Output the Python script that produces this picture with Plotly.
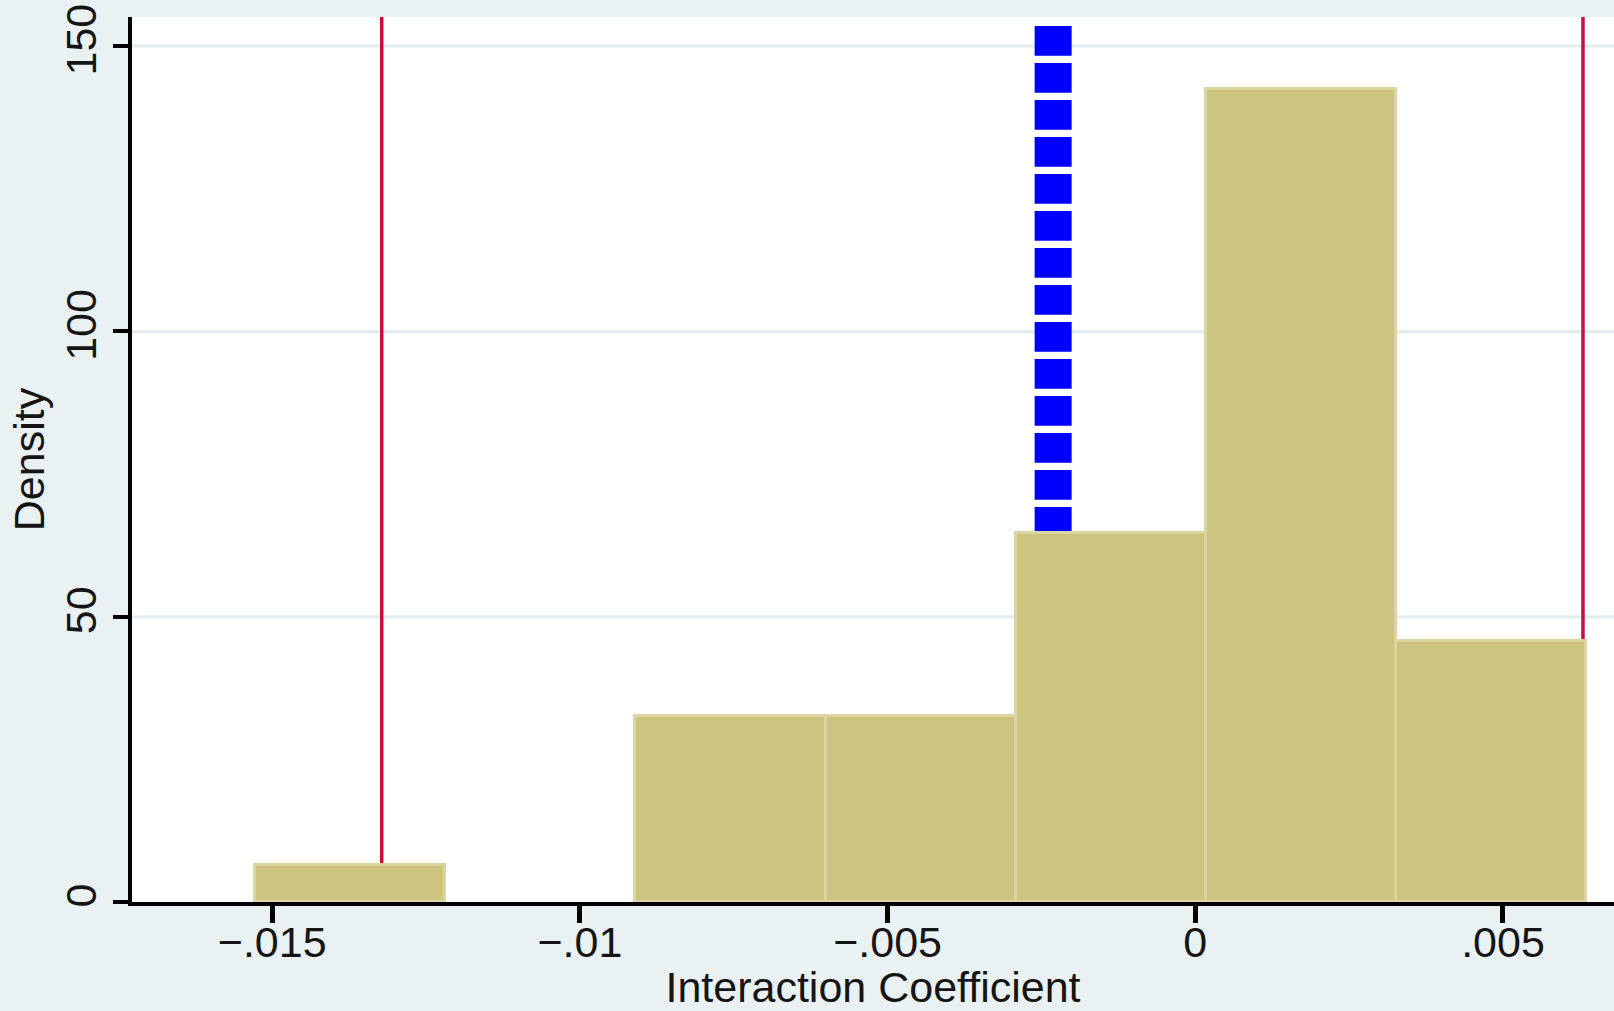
import plotly.graph_objects as go

# Histogram of the interaction coefficient, density scale
bin_left = [-0.01528, -0.012189, -0.009098, -0.006007, -0.002916, 0.000175, 0.003266]
bin_width = 0.003091
density = [6.5, 0.0, 32.6, 32.6, 64.7, 142.4, 45.8]

# Vertical reference lines
interval_bounds = [-0.01322, 0.0063]    # solid red lines
point_estimate = -0.00231               # dashed blue line

x_tickvals = [-0.015, -0.01, -0.005, 0.0, 0.005]
x_ticktext = ["\u2212.015", "\u2212.01", "\u2212.005", "0", ".005"]
y_tickvals = [0, 50, 100, 150]
y_ticktext = ["0", "50", "100", "150"]

x_title = "Interaction Coefficient"
y_title = "Density"

X_RANGE = [-0.017278, 0.006804]
Y_RANGE = [0, 155.1]

FONT = "Liberation Sans, Arial, sans-serif"
TEXT_COLOR = "#151515"
PAPER_BG = "#EAF1F3"
GRID = "#E3ECEE"

# only non-empty bins get a bar
bars = [(b + bin_width / 2, d) for b, d in zip(bin_left, density) if d > 0]

fig = go.Figure()
fig.add_trace(go.Bar(
    x=[c for c, _ in bars],
    y=[d for _, d in bars],
    width=[bin_width] * len(bars),
    marker=dict(color="#CCC47F", line=dict(color="#DAD5A2", width=3)),
    hoverinfo="skip",
    showlegend=False,
))

# horizontal grid lines (drawn first so the reference lines sit above them)
for yv in y_tickvals[1:]:
    fig.add_shape(type="line", xref="x domain", yref="y",
                  x0=0, x1=1, y0=yv, y1=yv,
                  line=dict(color=GRID, width=3), layer="below")

for xv in interval_bounds:
    fig.add_shape(type="line", xref="x", yref="y domain",
                  x0=xv, x1=xv, y0=0, y1=1,
                  line=dict(color="#C70F3B", width=3.5), layer="below")

# dashed line runs downward, starting a short gap under the top edge
fig.add_shape(type="line", xref="x", yref="y domain",
              x0=point_estimate, x1=point_estimate, y0=0.9898, y1=0,
              line=dict(color="#0000FF", width=37, dash="29.7px,7.3px"),
              layer="below")

fig.update_xaxes(
    range=X_RANGE,
    tickmode="array", tickvals=x_tickvals, ticktext=x_ticktext,
    ticks="outside", ticklen=17, tickwidth=4.5, tickcolor="black",
    ticklabelstandoff=-18,
    showline=True, linewidth=4, linecolor="black",
    showgrid=False, zeroline=False,
    tickfont=dict(family=FONT, size=43, color=TEXT_COLOR),
    title=dict(text=x_title, font=dict(family=FONT, size=43, color=TEXT_COLOR), standoff=8),
)
fig.update_yaxes(
    range=Y_RANGE,
    tickmode="array", tickvals=y_tickvals, ticktext=y_ticktext,
    tickangle=-90,
    ticks="outside", ticklen=15, tickwidth=4, tickcolor="black",
    showline=True, linewidth=3.5, linecolor="black",
    showgrid=False, zeroline=False,
    tickfont=dict(family=FONT, size=43, color=TEXT_COLOR),
    title=dict(text=y_title, font=dict(family=FONT, size=43, color=TEXT_COLOR), standoff=0),
)

fig.update_layout(
    width=1614, height=1011,
    margin=dict(l=132, r=0, t=17, b=109),
    paper_bgcolor=PAPER_BG,
    plot_bgcolor="white",
    bargap=0,
)

fig.write_html("out.html")
